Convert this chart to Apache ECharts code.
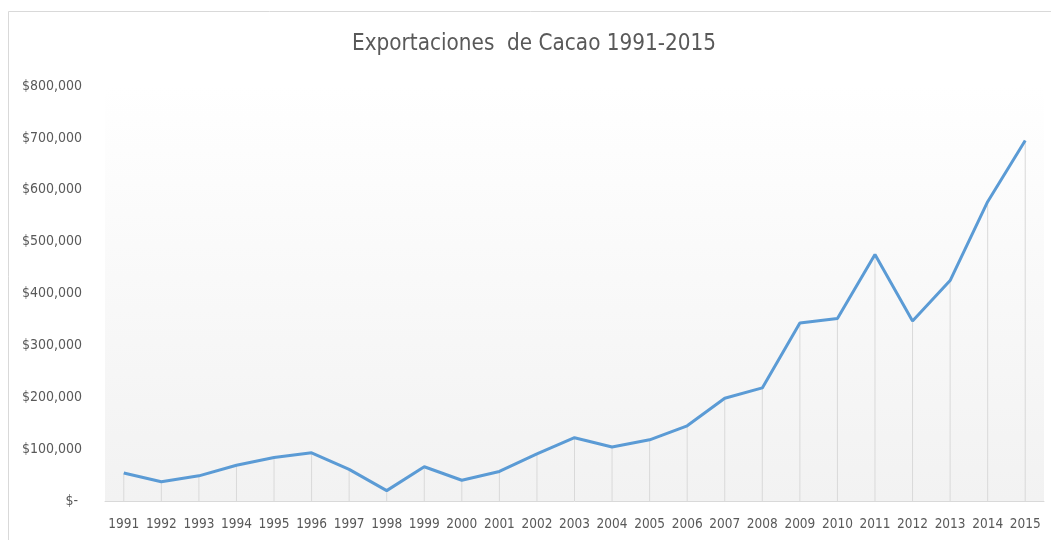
<!DOCTYPE html>
<html>
<head>
<meta charset="utf-8">
<script src="https://cdn.jsdelivr.net/npm/echarts@6/dist/echarts.min.js"></script>
<style>
  html, body { margin: 0; padding: 0; background: #ffffff; }
  #chart { width: 1051px; height: 540px; }
</style>
</head>
<body>
<div id="chart"></div>
<script>
// años y exportaciones (USD)
var years = ['1991', '1992', '1993', '1994', '1995', '1996', '1997', '1998', '1999', '2000',
    '2001', '2002', '2003', '2004', '2005', '2006', '2007', '2008', '2009', '2010',
    '2011', '2012', '2013', '2014', '2015'];
var exports = [54000, 37000, 48500, 69000, 84000, 93000, 61000, 20000, 66000, 40000,
    57000, 91000, 122000, 104000, 118000, 145000, 198000, 218000, 343000, 352000,
    475000, 347000, 425000, 577000, 695000];
var yTicks = { min: 0, max: 800000, interval: 100000 };

var font = "'DejaVu Sans Condensed', 'Liberation Sans', sans-serif";

function money(v) {
    if (v === 0) return '$- ';
    return '$' + String(v).replace(/\B(?=(\d{3})+(?!\d))/g, ',');
}

var myChart = echarts.init(document.getElementById('chart'));
myChart.setOption({
    backgroundColor: '#ffffff',
    animation: false,
    title: {
        text: 'Exportaciones  de Cacao 1991-2015',
        left: 352,
        top: 33,
        padding: 0,
        textStyle: {
            color: '#595959',
            fontFamily: font,
            fontSize: 22.3,
            fontWeight: 'normal'
        }
    },
    // marco del gráfico
    graphic: [{
        type: 'rect',
        silent: true,
        shape: { x: 8.5, y: 11.5, width: 1200, height: 700 },
        style: { fill: 'none', stroke: '#d9d9d9', lineWidth: 1 }
    }],
    grid: {
        left: 105,
        right: 7,
        top: 86,
        bottom: 39,
        show: true,
        borderWidth: 0,
        backgroundColor: new echarts.graphic.LinearGradient(0, 0, 0, 1, [
            { offset: 0, color: '#ffffff' },
            { offset: 1, color: '#f2f2f2' }
        ])
    },
    xAxis: {
        type: 'category',
        data: years,
        boundaryGap: true,
        axisLine: { lineStyle: { color: '#d9d9d9', width: 1 } },
        axisTick: { show: false },
        axisLabel: {
            color: '#595959',
            fontFamily: font,
            fontSize: 13.5,
            margin: 16,
            interval: 0
        },
        splitLine: { show: false }
    },
    yAxis: {
        type: 'value',
        min: yTicks.min,
        max: yTicks.max,
        interval: yTicks.interval,
        axisLine: { show: false },
        axisTick: { show: false },
        splitLine: { show: false },
        axisLabel: {
            color: '#595959',
            fontFamily: font,
            fontSize: 14,
            margin: 23,
            formatter: money
        }
    },
    series: [
        {
            // líneas verticales hasta el eje
            name: 'drop',
            type: 'bar',
            barWidth: 1,
            silent: true,
            z: 1,
            itemStyle: { color: '#d9d9d9' },
            data: exports
        },
        {
            name: 'Exportaciones',
            type: 'line',
            symbol: 'none',
            z: 3,
            lineStyle: { color: '#5b9bd5', width: 3 },
            data: exports
        }
    ]
});
</script>
</body>
</html>
